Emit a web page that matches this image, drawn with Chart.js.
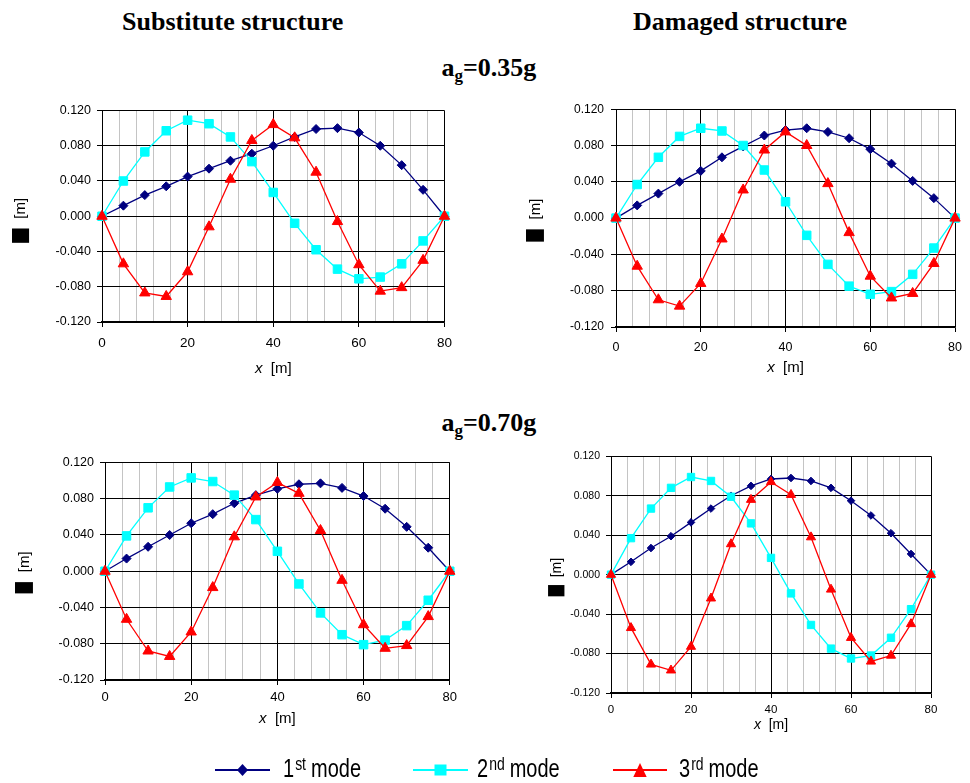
<!DOCTYPE html>
<html>
<head>
<meta charset="utf-8">
<script src="https://cdn.jsdelivr.net/npm/chart.js@4.4.0/dist/chart.umd.min.js"></script>
<style>
  html, body { margin: 0; padding: 0; background: #fff; }
  body { position: relative; width: 970px; height: 783px; overflow: hidden; }
  canvas { position: absolute; }
  .ttl { position: absolute; font: bold 26px "Liberation Serif", serif; line-height: 26px; white-space: nowrap; color: #000; }
  .ttl sub { font-size: 17px; line-height: 0; vertical-align: -5px; }
  #legend { position: absolute; left: 0; top: 745px; }
</style>
</head>
<body>
<div class="ttl" style="left:122px;top:9px">Substitute structure</div>
<div class="ttl" style="left:633px;top:9px">Damaged structure</div>
<div class="ttl" id="t035" style="top:55px">a<sub>g</sub>=0.35g</div>
<div class="ttl" id="t070" style="top:410px">a<sub>g</sub>=0.70g</div>

<svg id="legend" width="970" height="38" viewBox="0 745 970 38" xmlns="http://www.w3.org/2000/svg"></svg>

<script>
// ── Datos: desplazamientos modales (m) en x = 0..80 m ─────────
const X_POS = [0, 5, 10, 15, 20, 25, 30, 35, 40, 45, 50, 55, 60, 65, 70, 75, 80];

// Estructura sustituta, ag = 0.35g
const SUB_035_M1 = [0, 0.012, 0.024, 0.034, 0.045, 0.054, 0.063, 0.071, 0.080, 0.090, 0.099, 0.100, 0.095, 0.080, 0.058, 0.030, 0];
const SUB_035_M2 = [0, 0.040, 0.073, 0.097, 0.109, 0.105, 0.090, 0.062, 0.027, -0.008, -0.038, -0.060, -0.071, -0.069, -0.054, -0.028, 0];
const SUB_035_M3 = [0, -0.054, -0.087, -0.091, -0.063, -0.012, 0.042, 0.086, 0.104, 0.089, 0.050, -0.006, -0.055, -0.085, -0.081, -0.050, 0];

// Estructura dañada, ag = 0.35g
const DMG_035_M1 = [0, 0.014, 0.027, 0.040, 0.052, 0.067, 0.079, 0.091, 0.097, 0.099, 0.095, 0.088, 0.076, 0.060, 0.041, 0.022, 0];
const DMG_035_M2 = [0, 0.037, 0.067, 0.090, 0.099, 0.096, 0.080, 0.053, 0.018, -0.019, -0.051, -0.075, -0.084, -0.081, -0.062, -0.033, 0];
const DMG_035_M3 = [0, -0.053, -0.090, -0.097, -0.072, -0.023, 0.031, 0.075, 0.095, 0.080, 0.038, -0.016, -0.064, -0.088, -0.083, -0.050, 0];

// Estructura sustituta, ag = 0.70g
const SUB_070_M1 = [0, 0.014, 0.027, 0.040, 0.053, 0.063, 0.075, 0.084, 0.091, 0.096, 0.097, 0.092, 0.083, 0.069, 0.049, 0.026, 0];
const SUB_070_M2 = [0, 0.039, 0.070, 0.093, 0.103, 0.099, 0.084, 0.057, 0.022, -0.014, -0.046, -0.070, -0.081, -0.076, -0.060, -0.032, 0];
const SUB_070_M3 = [0, -0.053, -0.088, -0.094, -0.067, -0.018, 0.038, 0.082, 0.098, 0.086, 0.045, -0.010, -0.059, -0.085, -0.082, -0.050, 0];

// Estructura dañada, ag = 0.70g
const DMG_070_M1 = [0, 0.013, 0.027, 0.039, 0.053, 0.067, 0.080, 0.090, 0.097, 0.098, 0.095, 0.088, 0.075, 0.060, 0.042, 0.021, 0];
const DMG_070_M2 = [0, 0.037, 0.067, 0.088, 0.099, 0.095, 0.079, 0.052, 0.017, -0.019, -0.051, -0.075, -0.085, -0.082, -0.064, -0.035, 0];
const DMG_070_M3 = [0, -0.054, -0.091, -0.097, -0.073, -0.024, 0.031, 0.076, 0.094, 0.081, 0.038, -0.015, -0.064, -0.088, -0.082, -0.050, 0];

const MODE_LABELS = ['1st mode', '2nd mode', '3rd mode'];
const MODE_COLORS = ['#000080', '#00ffff', '#ff0000'];
const MODE_SHAPES = ['rectRot', 'rect', 'triangle'];

const Y_MIN = -0.12, Y_MAX = 0.12, Y_STEP = 0.04;
const X_MIN = 0, X_MAX = 80, X_MINOR = 4, X_MAJOR = 20;

// ── Geometría común de cada panel ────────────────────────────
const PAD_T = 12, Y_AXIS_W = 90, X_AXIS_H = 60;
const FONT = '"Liberation Sans", Arial, sans-serif';

// Títulos de ejes dibujados a mano (x cursiva + [m], símbolo negro + [m])
const axisTitles = {
  id: 'axisTitles',
  afterDraw(chart, args, o) {
    const { ctx, chartArea: a } = chart;
    ctx.save();
    ctx.fillStyle = '#000';

    // eje x
    ctx.textBaseline = 'alphabetic';
    ctx.textAlign = 'left';
    ctx.font = `italic ${o.xSize}px ${FONT}`;
    const xw = ctx.measureText('x').width;
    ctx.font = `${o.xSize}px ${FONT}`;
    const rest = '  [m]';
    const rw = ctx.measureText(rest).width;
    const x0 = (a.left + a.right) / 2 - (xw + rw) / 2;
    const yb = a.bottom + o.xBase;
    ctx.font = `italic ${o.xSize}px ${FONT}`;
    ctx.fillText('x', x0, yb);
    ctx.font = `${o.xSize}px ${FONT}`;
    ctx.fillText(rest, x0 + xw, yb);

    // eje y (rotado)
    ctx.translate(a.left - o.yDx, (a.top + a.bottom) / 2 + o.yDy);
    ctx.rotate(-Math.PI / 2);
    ctx.textBaseline = 'middle';
    ctx.font = `${o.ySize}px ${FONT}`;
    const mw = ctx.measureText('[m]').width;
    const total = o.blkH + o.gap + mw;
    const s0 = -total / 2;
    ctx.save();
    ctx.font = `${o.blkSize}px "DejaVu Sans"`;
    const bw = ctx.measureText('\u2588').width;
    ctx.translate(s0, 0);
    ctx.scale(o.blkH / bw, 1);
    ctx.fillText('\u2588', 0, 0);
    ctx.restore();
    ctx.fillText('[m]', s0 + o.blkH + o.gap, 0);
    ctx.restore();
  }
};

function fmtY(v) {
  return Math.abs(v) < 1e-9 ? '0.000' : v.toFixed(3);
}

function makePanel(box, series, st) {
  const cv = document.createElement('canvas');
  const w = Y_AXIS_W + (box.R - box.L) + st.padR;
  const h = PAD_T + (box.B - box.T) + X_AXIS_H;
  cv.width = w; cv.height = h;
  cv.style.left = (box.L - Y_AXIS_W) + 'px';
  cv.style.top = (box.T - PAD_T) + 'px';
  cv.style.width = w + 'px'; cv.style.height = h + 'px';
  document.body.insertBefore(cv, document.getElementById('legend'));

  const radii = st.radii;
  const datasets = series.map((vals, i) => ({
    label: MODE_LABELS[i],
    data: X_POS.map((x, k) => ({ x, y: vals[k] })),
    borderColor: MODE_COLORS[i],
    backgroundColor: MODE_COLORS[i],
    pointBackgroundColor: MODE_COLORS[i],
    pointBorderColor: MODE_COLORS[i],
    pointBorderWidth: 1,
    pointStyle: MODE_SHAPES[i],
    pointRadius: radii[i],
    borderWidth: 1.3,
    tension: 0,
    clip: false,
    order: 3 - i   // el 3er modo queda encima
  }));

  return new Chart(cv.getContext('2d'), {
    type: 'line',
    data: { datasets },
    plugins: [axisTitles],
    options: {
      responsive: false, animation: false, devicePixelRatio: 1,
      layout: { padding: { top: PAD_T, right: st.padR, left: 0, bottom: 0 } },
      plugins: {
        legend: { display: false },
        tooltip: { enabled: false },
        axisTitles: st.titles
      },
      scales: {
        x: {
          type: 'linear', min: X_MIN, max: X_MAX,
          afterFit: s => { s.height = X_AXIS_H; },
          ticks: {
            stepSize: X_MINOR, autoSkip: false, maxRotation: 0, padding: st.xPad,
            color: '#000', font: { family: FONT, size: st.xFont },
            callback: v => (v % X_MAJOR === 0 ? String(v) : '')
          },
          grid: {
            color: c => (c.tick && c.tick.value % X_MAJOR === 0 ? '#000' : '#c4c4c4'),
            tickColor: c => (c.tick && c.tick.value % X_MAJOR === 0 ? '#000' : 'rgba(0,0,0,0)'),
            tickLength: 5, lineWidth: 1
          },
          border: { color: '#000', width: 1.5 }
        },
        y: {
          min: Y_MIN, max: Y_MAX,
          afterFit: s => { s.width = Y_AXIS_W; },
          ticks: {
            stepSize: Y_STEP, padding: st.yPad, color: '#000',
            font: { family: FONT, size: st.yFont }, callback: fmtY
          },
          grid: { color: '#000', tickColor: '#000', tickLength: 5, lineWidth: 1 },
          border: { color: '#000', width: 1 }
        }
      }
    }
  });
}

// ── Cuatro paneles ───────────────────────────────────────────
makePanel({ L: 102, T: 109, R: 448, B: 322 }, [SUB_035_M1, SUB_035_M2, SUB_035_M3], {
  padR: 12, xFont: 13.5, yFont: 12.5, xPad: 8, yPad: 6, radii: [4.5, 6, 6],
  titles: { xSize: 15, xBase: 51, yDx: 81.5, yDy: 4, ySize: 15, blkH: 14, blkSize: 16.3, gap: 10 }
});
makePanel({ L: 616, T: 107, R: 961, B: 327 }, [DMG_035_M1, DMG_035_M2, DMG_035_M3], {
  padR: 9, xFont: 12.5, yFont: 12, xPad: 8, yPad: 7, radii: [4.5, 6, 6],
  titles: { xSize: 15, xBase: 45, yDx: 80, yDy: 2, ySize: 15, blkH: 12, blkSize: 15.5, gap: 10 }
});
makePanel({ L: 105, T: 461, R: 450, B: 680 }, [SUB_070_M1, SUB_070_M2, SUB_070_M3], {
  padR: 12, xFont: 13, yFont: 12.5, xPad: 5, yPad: 6, radii: [4.5, 6, 6],
  titles: { xSize: 15, xBase: 43, yDx: 80, yDy: 1, ySize: 15, blkH: 11, blkSize: 15.5, gap: 10 }
});
makePanel({ L: 611, T: 456, R: 931, B: 693 }, [DMG_070_M1, DMG_070_M2, DMG_070_M3], {
  padR: 12, xFont: 11.5, yFont: 10.5, xPad: 5, yPad: 6, radii: [3.8, 5.2, 5.3],
  titles: { xSize: 14, xBase: 36, yDx: 54, yDy: 2.5, ySize: 14, blkH: 11, blkSize: 13.8, gap: 8 }
});

// centrar los rótulos de aceleración
['t035', 't070'].forEach(id => {
  const el = document.getElementById(id);
  el.style.left = (489 - el.offsetWidth / 2) + 'px';
});

// ── Leyenda común ────────────────────────────────────────────
const LEG_LINES = [[215, 270], [413, 468], [613, 667]];
const LEG_NUM = ['1', '2', '3'];
const LEG_SUP = ['st', 'nd', 'rd'];
const LEG_TEXT_X = [283, 477, 679];

(function buildLegend() {
  const svg = document.getElementById('legend');
  const ly = 770, base = 777;
  const fam = 'Liberation Sans, Arial, sans-serif';
  let out = '';
  LEG_LINES.forEach(([a, b], i) => {
    const c = MODE_COLORS[i], m = (a + b) / 2;
    out += `<line x1="${a}" y1="${ly}" x2="${b}" y2="${ly}" stroke="${c}" stroke-width="2"/>`;
    if (i === 0) out += `<polygon points="${m - 5.5},${ly} ${m},${ly - 6} ${m + 5.5},${ly} ${m},${ly + 6}" fill="${c}"/>`;
    if (i === 1) out += `<rect x="${m - 6}" y="${ly - 5.5}" width="12" height="11" fill="${c}"/>`;
    if (i === 2) out += `<polygon points="${m},${ly - 7} ${m + 6.7},${ly + 7} ${m - 6.7},${ly + 7}" fill="${c}"/>`;
    out += `<g transform="translate(${LEG_TEXT_X[i]},${base}) scale(1,1.3)" font-family="${fam}" fill="#000">` +
      `<text x="0" y="0" font-size="20">${LEG_NUM[i]}<tspan font-size="14" dy="-5.4" dx="1">${LEG_SUP[i]}</tspan>` +
      `<tspan font-size="20" dy="5.4" dx="5">mode</tspan></text></g>`;
  });
  svg.innerHTML = out;
})();
</script>
</body>
</html>
